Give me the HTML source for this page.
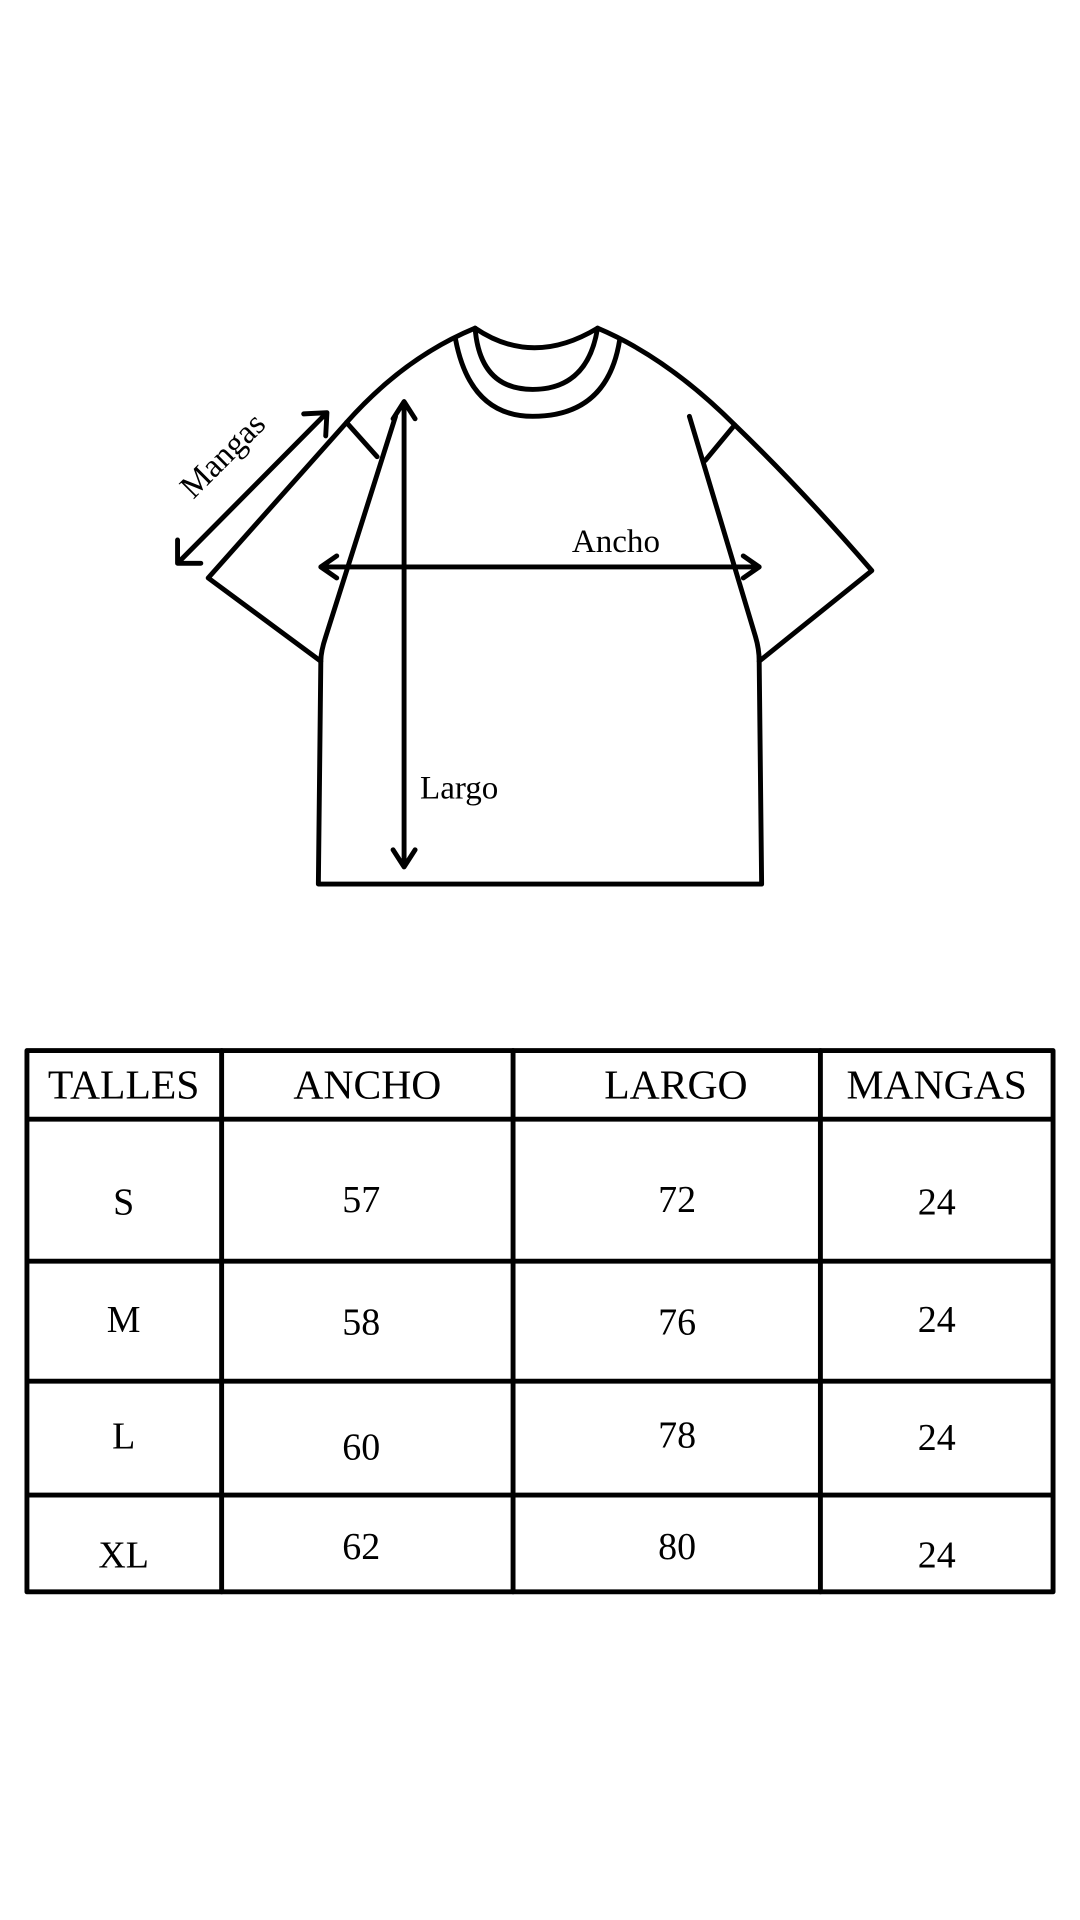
<!DOCTYPE html>
<html><head><meta charset="utf-8"><style>
html,body{margin:0;padding:0;background:#fff;}
svg{display:block;}
text{font-family:"Liberation Serif",serif;fill:#000;}
</style></head><body>
<svg width="1080" height="1920" viewBox="0 0 882 1568" preserveAspectRatio="none" xmlns="http://www.w3.org/2000/svg">
<rect width="882" height="1568" fill="#fff"/>
<g fill="none" stroke="#000" stroke-width="4" stroke-linecap="round" stroke-linejoin="round">
<path d="M388 268 Q435 300 488 268"/>
<path d="M388 268 Q392 318 435 318 Q480 318 488 268"/>
<path d="M372 277 Q384 340 435 340 Q496 340 506 278"/>
<path d="M388 268 Q330 292 283 345 L170 472 L262 540"/>
<path d="M283 345 L308 373"/>
<path d="M323 340 L266 520 Q262 532 262 540 L260 722 L622 722 L620 540 Q620 530 617 520 L563 340"/>
<path d="M488 268 Q545 292 600 347 Q655 400 712 466 L620 540"/>
<path d="M600 347 L576 376"/>
<path d="M145 460 L267 337 M248 338 L267 337 L266 356 M145 441 L145 460 L164 460"/>
<path d="M330 328 L330 708 M321 342 L330 328 L339 342 M321 694 L330 708 L339 694"/>
<path d="M262 463 L620 463 M275 454 L262 463 L275 472 M607 454 L620 463 L607 472"/>
<path d="M22 858 L860 858 L860 1300 L22 1300 Z"/>
<path d="M181 858 L181 1300 M419 858 L419 1300 M670 858 L670 1300"/>
<path d="M22 914 L860 914 M22 1030 L860 1030 M22 1128 L860 1128 M22 1221 L860 1221"/>
</g>
<text x="188" y="378" font-size="27" transform="rotate(-45 188 378)" text-anchor="middle">Mangas</text>
<text x="503" y="451" font-size="27" text-anchor="middle">Ancho</text>
<text x="375" y="652" font-size="27" text-anchor="middle">Largo</text>
<g font-size="34" text-anchor="middle">
<text x="101" y="897">TALLES</text>
<text x="300" y="897">ANCHO</text>
<text x="552" y="897">LARGO</text>
<text x="765" y="897">MANGAS</text>
</g>
<g font-size="31" text-anchor="middle">
<text x="101" y="992">S</text><text x="295" y="990">57</text><text x="553" y="990">72</text><text x="765" y="992">24</text>
<text x="101" y="1088">M</text><text x="295" y="1090">58</text><text x="553" y="1090">76</text><text x="765" y="1088">24</text>
<text x="101" y="1183">L</text><text x="295" y="1192">60</text><text x="553" y="1182">78</text><text x="765" y="1184">24</text>
<text x="101" y="1280">XL</text><text x="295" y="1273">62</text><text x="553" y="1273">80</text><text x="765" y="1280">24</text>
</g>
</svg>
</body></html>
